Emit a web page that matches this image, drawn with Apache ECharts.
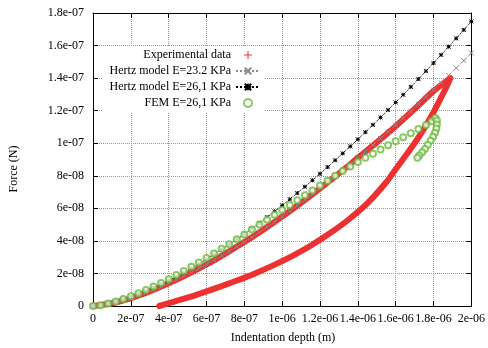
<!DOCTYPE html>
<html><head><meta charset="utf-8">
<script src="https://cdn.jsdelivr.net/npm/echarts@6/dist/echarts.min.js"></script>
<style>html,body{margin:0;padding:0;background:#fff}#c{width:488px;height:348px}</style>
</head><body><div id="c"></div>
<script>
// Units: depth in 1e-6 m, force in 1e-7 N
const xTickLabels = ['0','2e-07','4e-07','6e-07','8e-07','1e-06','1.2e-06','1.4e-06','1.6e-06','1.8e-06','2e-06'];
const yTickLabels = ['0','2e-08','4e-08','6e-08','8e-08','1e-07','1.2e-07','1.4e-07','1.6e-07','1.8e-07'];
const seriesNames = ['Experimental data','Hertz model E=23.2 KPa','Hertz model E=26,1 KPa','FEM E=26,1 KPa'];

// Experimental: loading then unloading
const expDepth = [0,0.1,0.2,0.3,0.4,0.5,0.6,0.7,0.8,0.9,1.0,1.1,1.2,1.3,1.4,1.5,1.6,1.7,1.8,1.889,
  1.87,1.84,1.8,1.75,1.7,1.65,1.6,1.55,1.45,1.35,1.25,1.15,1.05,0.95,0.85,0.75,0.65,0.55,0.45,0.35];
const expForce = [0,0.017,0.049,0.09,0.139,0.194,0.255,0.322,0.393,0.469,0.549,0.634,0.722,0.814,0.91,1.005,1.105,1.21,1.32,1.40,
  1.35,1.28,1.19,1.09,1.00,0.92,0.84,0.76,0.63,0.53,0.445,0.37,0.305,0.248,0.197,0.152,0.11,0.07,0.034,0.0];

const hertzDepth = [0,0.04,0.08,0.12,0.16,0.2,0.24,0.28,0.32,0.36,0.4,0.44,0.48,0.52,0.56,0.6,0.64,0.68,0.72,0.76,0.8,0.84,0.88,0.92,0.96,1.0,
  1.04,1.08,1.12,1.16,1.2,1.24,1.28,1.32,1.36,1.4,1.44,1.48,1.52,1.56,1.6,1.64,1.68,1.72,1.76,1.8,1.84,1.88,1.92,1.96,2.0];
const hertz23Force = [0,0.0044,0.0124,0.0228,0.0352,0.0491,0.0646,0.0814,0.0995,0.1187,0.1390,0.1603,0.1827,0.2060,0.2302,0.2553,0.2813,0.3081,0.3356,0.3640,0.3931,0.4230,0.4535,0.4848,0.5168,0.5494,
  0.5827,0.6166,0.6512,0.6864,0.7222,0.7586,0.7956,0.8332,0.8714,0.9101,0.9494,0.9892,1.0296,1.0705,1.1119,1.1539,1.1963,1.2393,1.2828,1.3268,1.3713,1.4162,1.4616,1.5076,1.5539];
const hertz26Force = [0,0.0049,0.0140,0.0257,0.0396,0.0553,0.0727,0.0916,0.1119,0.1335,0.1564,0.1804,0.2056,0.2318,0.2590,0.2873,0.3165,0.3466,0.3776,0.4095,0.4423,0.4759,0.5103,0.5454,0.5814,0.6181,
  0.6556,0.6937,0.7326,0.7722,0.8125,0.8535,0.8951,0.9374,0.9803,1.0239,1.0681,1.1129,1.1583,1.2043,1.2509,1.2981,1.3459,1.3943,1.4432,1.4927,1.5427,1.5933,1.6444,1.6961,1.7482];

const femDepth = [0,0.04,0.08,0.12,0.16,0.2,0.24,0.28,0.32,0.36,0.4,0.44,0.48,0.52,0.56,0.6,0.64,0.68,0.72,0.76,0.8,0.84,0.88,0.92,0.96,1.0,
  1.04,1.08,1.12,1.16,1.2,1.24,1.28,1.32,1.36,1.4,1.44,1.48,1.52,1.56,1.6,1.64,1.68,1.72,1.76,1.79,1.81,
  1.818,1.818,1.815,1.808,1.798,1.785,1.77,1.755,1.74,1.725,1.715];
const femForce = [0,0.005,0.015,0.028,0.043,0.060,0.078,0.098,0.120,0.142,0.165,0.190,0.215,0.241,0.268,0.295,0.323,0.351,0.380,0.410,0.440,0.470,0.500,0.530,0.560,0.590,
  0.620,0.650,0.680,0.710,0.740,0.770,0.800,0.830,0.857,0.884,0.910,0.936,0.962,0.987,1.012,1.037,1.062,1.087,1.112,1.135,1.155,
  1.14,1.115,1.09,1.065,1.04,1.015,0.99,0.965,0.945,0.925,0.91];

const zip = (a, b) => a.map((v, i) => [v, b[i]]);
const FONT = 'Liberation Serif';
const CROSS = 'path://M0,0L10,10M10,0L0,10';
const PLUS = 'path://M5,0L5,10M0,5L10,5';
const STAR = 'path://M0,0L10,10M10,0L0,10M5,0L5,10M0,5L10,5';
const RED = '#ee3030', GRAY = '#8a8a8a', GREEN = '#6cbc3c';

const grid = {left: 93, right: 15, top: 13, bottom: 42};
const xBase = {type: 'value', min: 0, max: 2, interval: 0.2};
const yBase = {type: 'value', min: 0, max: 1.8, interval: 0.2};

const chart = echarts.init(document.getElementById('c'), null, {renderer: 'canvas'});
chart.setOption({
  animation: false,
  backgroundColor: '#fff',
  grid: grid,
  xAxis: [
    Object.assign({}, xBase, {
      position: 'bottom',
      axisLine: {show: true, onZero: false, lineStyle: {color: '#000', width: 1}},
      axisTick: {show: true, inside: true, length: 5, lineStyle: {color: '#000'}},
      axisLabel: {show: true, margin: 7, fontFamily: FONT, fontSize: 12, color: '#000',
        showMinLabel: true, showMaxLabel: true,
        formatter: v => xTickLabels[Math.round(v / 0.2)]},
      splitLine: {show: true, lineStyle: {color: '#9a9a9a', type: 'dotted', width: 1}}
    }),
    Object.assign({}, xBase, {
      position: 'top',
      axisLine: {show: true, onZero: false, lineStyle: {color: '#000', width: 1}},
      axisTick: {show: true, inside: true, length: 5, lineStyle: {color: '#000'}},
      axisLabel: {show: false},
      splitLine: {show: false}
    })
  ],
  yAxis: [
    Object.assign({}, yBase, {
      position: 'left',
      axisLine: {show: true, onZero: false, lineStyle: {color: '#000', width: 1}},
      axisTick: {show: true, inside: true, length: 5, lineStyle: {color: '#000'}},
      axisLabel: {show: true, margin: 9, fontFamily: FONT, fontSize: 12, color: '#000',
        showMinLabel: true, showMaxLabel: true,
        formatter: v => yTickLabels[Math.round(v / 0.2)]},
      splitLine: {show: true, lineStyle: {color: '#9a9a9a', type: 'dotted', width: 1}}
    }),
    Object.assign({}, yBase, {
      position: 'right',
      axisLine: {show: true, onZero: false, lineStyle: {color: '#000', width: 1}},
      axisTick: {show: true, inside: true, length: 5, lineStyle: {color: '#000'}},
      axisLabel: {show: false},
      splitLine: {show: false}
    })
  ],
  legend: {
    orient: 'vertical',
    align: 'right',
    right: 223,
    top: 46,
    padding: [3, 4, 4, 8],
    itemGap: 4,
    itemWidth: 24,
    itemHeight: 8,
    backgroundColor: '#fff',
    textStyle: {fontFamily: FONT, fontSize: 12, color: '#000'},
    data: [
      {name: seriesNames[0], icon: PLUS, itemStyle: {color: RED, borderColor: RED, borderWidth: 1}, lineStyle: {opacity: 0, width: 0}},
      {name: seriesNames[1]},
      {name: seriesNames[2]},
      {name: seriesNames[3]}
    ]
  },
  series: [
    {
      name: seriesNames[0], type: 'line', xAxisIndex: 0, yAxisIndex: 0,
      data: zip(expDepth, expForce),
      symbol: 'none', smooth: 0.3,
      lineStyle: {color: RED, width: 6, cap: 'round', join: 'round'},
      itemStyle: {color: RED},
      z: 2
    },
    {
      name: seriesNames[1], type: 'line', xAxisIndex: 0, yAxisIndex: 0,
      data: zip(hertzDepth, hertz23Force),
      symbol: CROSS, symbolSize: 5, showAllSymbol: true,
      lineStyle: {color: GRAY, width: 1, type: 'dotted'},
      itemStyle: {color: GRAY, borderColor: GRAY, borderWidth: 1},
      z: 3
    },
    {
      name: seriesNames[2], type: 'line', xAxisIndex: 0, yAxisIndex: 0,
      data: zip(hertzDepth, hertz26Force),
      symbol: STAR, symbolSize: 4, showAllSymbol: true,
      lineStyle: {color: '#000', width: 1, type: 'dotted'},
      itemStyle: {color: '#000', borderColor: '#000', borderWidth: 1},
      z: 4
    },
    {
      name: seriesNames[3], type: 'scatter', xAxisIndex: 0, yAxisIndex: 0,
      data: zip(femDepth, femForce),
      symbol: 'emptyCircle', symbolSize: 6,
      itemStyle: {color: GREEN, borderColor: GREEN, borderWidth: 1},
      z: 5
    }
  ],
  graphic: [
    {type: 'text', x: 14, y: 169, rotation: Math.PI / 2,
      style: {text: 'Force (N)', fontFamily: FONT, fontSize: 12, fill: '#000', align: 'center', verticalAlign: 'middle'}},
    {type: 'text', x: 283, y: 338,
      style: {text: 'Indentation depth (m)', fontFamily: FONT, fontSize: 12, fill: '#000', align: 'center', verticalAlign: 'middle'}}
  ]
});
</script>
</body></html>
